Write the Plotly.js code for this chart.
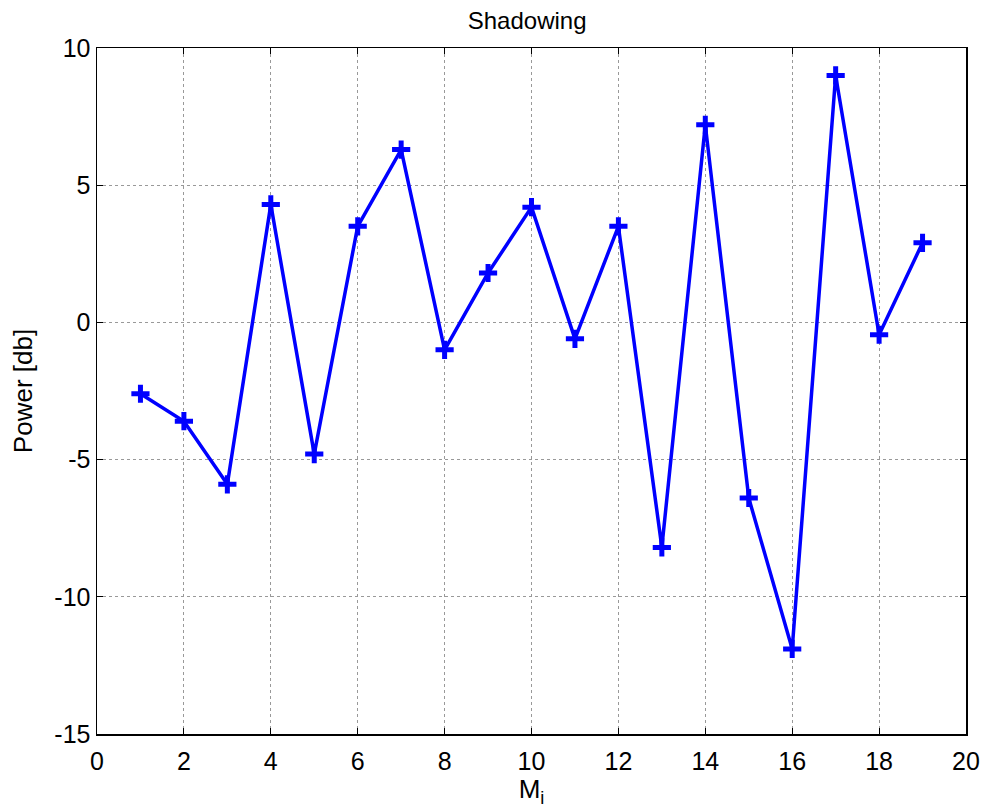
<!DOCTYPE html>
<html><head><meta charset="utf-8">
<script src="https://cdn.plot.ly/plotly-3.0.1.min.js"></script>
<style>body{margin:0;background:#fff}</style>
</head><body><div id="chart" style="width:985px;height:811px"></div>
<script>
const xValues = [1,2,3,4,5,6,7,8,9,10,11,12,13,14,15,16,17,18,19];
const powerDb = [-2.6,-3.6,-5.9,4.3,-4.8,3.5,6.3,-1.0,1.8,4.2,-0.6,3.5,-8.2,7.2,-6.4,-11.9,9.0,-0.45,2.9];
const xTicks = [0,2,4,6,8,10,12,14,16,18,20];
const yTicks = [-15,-10,-5,0,5,10];
const FONT = 'Liberation Sans';

const trace = {
  x: xValues, y: powerDb, type: 'scatter', mode: 'lines+markers',
  line: {color: '#0000ff', width: 3.5},
  marker: {symbol: 'cross-thin-open', size: 13, color: '#0000ff', line: {color: '#0000ff', width: 5}},
  hoverinfo: 'skip'
};
const axisCommon = {
  showline: true, mirror: 'ticks', linecolor: '#000', linewidth: 1.5,
  ticks: 'inside', ticklen: 6, tickcolor: '#000',
  showgrid: true, gridcolor: '#999', griddash: 'dot', gridwidth: 1,
  zeroline: false, tickfont: {family: FONT, size: 25, color: '#000'}
};
const layout = {
  width: 985, height: 811,
  margin: {l: 97, r: 19, t: 48, b: 77},
  paper_bgcolor: '#fff', plot_bgcolor: '#fff',
  showlegend: false,
  font: {family: FONT, size: 25, color: '#000'},
  title: {text: 'Shadowing', font: {family: FONT, size: 24, color: '#000'}, xref: 'paper', x: 0.495, xanchor: 'center', yref: 'container', y: 0.974, yanchor: 'middle'},
  xaxis: Object.assign({}, axisCommon, {range: [0, 20], tickvals: xTicks, ticktext: xTicks.map(String), ticklabelstandoff: 4,
    title: {text: 'M<sub>i</sub>', font: {family: FONT, size: 26, color: '#000'}, standoff: 2}}),
  yaxis: Object.assign({}, axisCommon, {range: [-15, 10], tickvals: yTicks, ticktext: yTicks.map(String),
    title: {text: 'Power [db]', font: {family: FONT, size: 26, color: '#000'}, standoff: 14}})
};
Plotly.newPlot('chart', [trace], layout, {displayModeBar: false, staticPlot: true});
</script></body></html>
